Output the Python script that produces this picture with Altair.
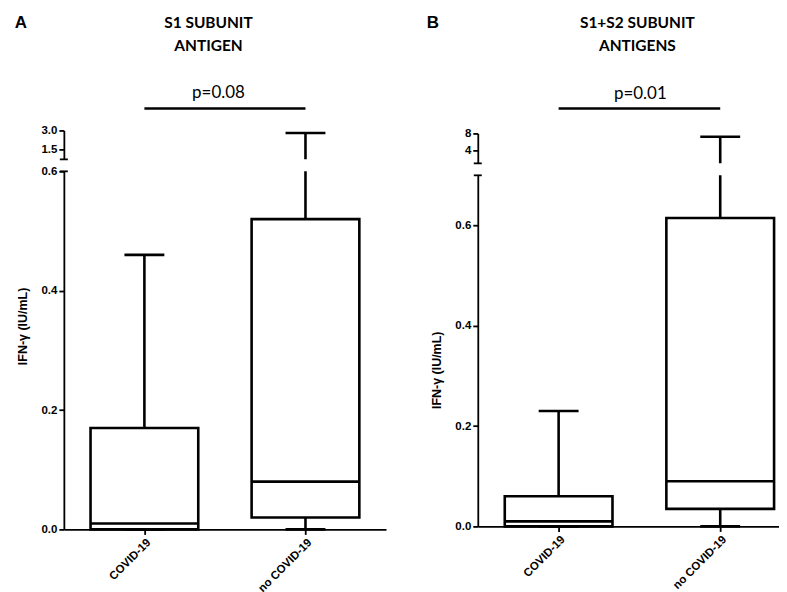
import altair as alt
import pandas as pd

groups = ["COVID-19", "no COVID-19"]

# Panel A (S1 subunit antigen)
a_min = [0.0, 0.0]
a_q1 = [0.0, 0.02]
a_med = [0.01, 0.08]
a_q3 = [0.17, 0.52]
a_max = [0.46, 2.8]

# Panel B (S1+S2 subunit antigens)
b_min = [0.0, 0.0]
b_q1 = [0.0, 0.035]
b_med = [0.01, 0.09]
b_q3 = [0.06, 0.615]
b_max = [0.23, 7.2]

letters = ["A", "B"]
titles = ["S1 SUBUNIT\nANTIGEN", "S1+S2 SUBUNIT\nANTIGENS"]
pvals = ["p=0.08", "p=0.01"]
y_title = "IFN-\u03b3 (IU/mL)"

A_lower_ticks = [0.0, 0.2, 0.4, 0.6]
A_upper_ticks = [1.5, 3.0]
B_lower_ticks = [0.0, 0.2, 0.4, 0.6]
B_upper_ticks = [4, 8]

BLACK = "#000000"
LW = 2.6


def make_df(mn, q1, med, q3, mx):
    return pd.DataFrame({"group": groups, "min": mn, "q1": q1, "med": med, "q3": q3, "max": mx})


def panel(df, letter, title, ptxt, width, pad, align, header_h, up_dom, up_ticks, up_fmt, up_h,
          lo_dom, lo_ticks, lo_h, title_y, letter_x, title_x, p_x, p_y, bar_y, lo_cap):
    xs = alt.Scale(type="point", domain=groups, padding=pad, align=align)
    xn = alt.X("group:N", scale=xs, axis=None)

    # header: letter, title, p-value bar
    hdr_txt = pd.DataFrame({"letter": [letter], "title": [title], "p": [ptxt]})
    letter_l = alt.Chart(hdr_txt).mark_text(
        font="Liberation Sans", fontWeight="bold", fontSize=17, color=BLACK, baseline="middle"
    ).encode(text="letter:N", x=alt.value(letter_x), y=alt.value(14))
    title_l = alt.Chart(hdr_txt).mark_text(
        font="Lato", fontWeight="bold", fontSize=15.5, color=BLACK, baseline="middle",
        lineBreak="\n", lineHeight=23
    ).encode(text="title:N", x=alt.value(title_x), y=alt.value(14))
    p_l = alt.Chart(hdr_txt).mark_text(
        font="Lato", fontSize=17, color=BLACK, baseline="middle"
    ).encode(text="p:N", x=alt.value(p_x), y=alt.value(p_y))
    bar_df = pd.DataFrame({"g1": [groups[0]], "g2": [groups[1]]})
    pbar = alt.Chart(bar_df).mark_rule(color=BLACK, strokeWidth=LW).encode(
        x=alt.X("g1:N", scale=xs, axis=None), x2="g2:N", y=alt.value(bar_y)
    )
    header = alt.layer(letter_l, title_l, p_l, pbar).properties(width=width, height=header_h)

    # upper segment of broken axis
    ys_up = alt.Scale(domain=up_dom, zero=False, nice=False)
    up_axis = alt.Axis(values=up_ticks, format=up_fmt, title=None)
    up_w = alt.Chart(df).mark_rule(color=BLACK, strokeWidth=LW, clip=True).encode(
        x=xn, y=alt.Y("q3:Q", scale=ys_up, axis=up_axis), y2="max:Q"
    )
    up_cap = alt.Chart(df).mark_tick(color=BLACK, opacity=1, size=40, thickness=LW, clip=True).encode(
        x=xn, y="max:Q"
    )
    up_end = alt.Chart(pd.DataFrame({"v": [up_dom[0]]})).mark_rule(color=BLACK, strokeWidth=1.8).encode(
        y="v:Q", x=alt.value(-4), x2=alt.value(4)
    )
    upper = alt.layer(up_w, up_cap, up_end).properties(width=width, height=up_h)

    # lower segment
    ys_lo = alt.Scale(domain=lo_dom, zero=False, nice=False)
    lo_axis = alt.Axis(values=lo_ticks, format=".1f", title=y_title, titleY=title_y)
    xl = alt.X("group:N", scale=xs, title=None,
               axis=alt.Axis(labelAngle=-45, ticks=True, domain=True))
    lo_w_up = alt.Chart(df).mark_rule(color=BLACK, strokeWidth=LW, clip=True).encode(
        x=xl, y=alt.Y("q3:Q", scale=ys_lo, axis=lo_axis), y2="max:Q"
    )
    lo_w_dn = alt.Chart(df).mark_rule(color=BLACK, strokeWidth=LW).encode(
        x=xl, y="min:Q", y2="q1:Q"
    )
    box = alt.Chart(df).mark_bar(size=108, fill="white", stroke=BLACK, strokeWidth=LW, opacity=1).encode(
        x=xl, y="q1:Q", y2="q3:Q"
    )
    med = alt.Chart(df).mark_tick(color=BLACK, opacity=1, size=108, thickness=LW).encode(x=xl, y="med:Q")
    cap_min = alt.Chart(df).mark_tick(color=BLACK, opacity=1, size=40, thickness=LW).encode(x=xl, y="min:Q")
    cap_max = alt.Chart(df).mark_tick(color=BLACK, opacity=1, size=40, thickness=LW, clip=True).encode(
        x=xl, y="max:Q")
    layers = [lo_w_up, lo_w_dn, box, med, cap_min, cap_max]
    if lo_cap is not None:
        layers.append(
            alt.Chart(pd.DataFrame({"v": [lo_cap]})).mark_rule(color=BLACK, strokeWidth=1.8).encode(
                y="v:Q", x=alt.value(-4), x2=alt.value(4)
            )
        )
    lower = alt.layer(*layers).properties(width=width, height=lo_h)

    return alt.vconcat(header, upper, lower, spacing=12, bounds="flush")


dfA = make_df(a_min, a_q1, a_med, a_q3, a_max)
dfB = make_df(b_min, b_q1, b_med, b_q3, b_max)

pA = panel(dfA, letters[0], titles[0], pvals[0], width=323, pad=0.5, align=0.5, header_h=110,
           up_dom=[0.7, 3.0], up_ticks=A_upper_ticks, up_fmt=".1f", up_h=29,
           lo_dom=[0.0, 0.6], lo_ticks=A_lower_ticks, lo_h=359, title_y=155,
           letter_x=-43, title_x=145, p_x=155, p_y=84, bar_y=100, lo_cap=0.6)
pB = panel(dfB, letters[1], titles[1], pvals[1], width=302, pad=0.432, align=0.579, header_h=113,
           up_dom=[0.8, 8.0], up_ticks=B_upper_ticks, up_fmt="d", up_h=30,
           lo_dom=[0.0, 0.7], lo_ticks=B_lower_ticks, lo_h=352, title_y=195,
           letter_x=-45, title_x=160, p_x=163, p_y=85, bar_y=100, lo_cap=0.7)

chart = alt.hconcat(pA, pB, spacing=40).properties(
    padding={"left": 6, "top": 0, "right": 0, "bottom": 0}
).configure_view(stroke=None).configure_axis(
    domainColor=BLACK, domainWidth=1.8, tickColor=BLACK, tickWidth=1.8, tickSize=5,
    labelFont="Liberation Sans", labelFontWeight="bold", labelFontSize=11.5, labelColor=BLACK,
    labelPadding=2, grid=False,
    titleFont="Liberation Sans", titleFontWeight="bold", titleFontSize=12.5, titleColor=BLACK,
    titlePadding=11
)

chart.save("out.html", embed_options={"renderer": "svg", "actions": False})
